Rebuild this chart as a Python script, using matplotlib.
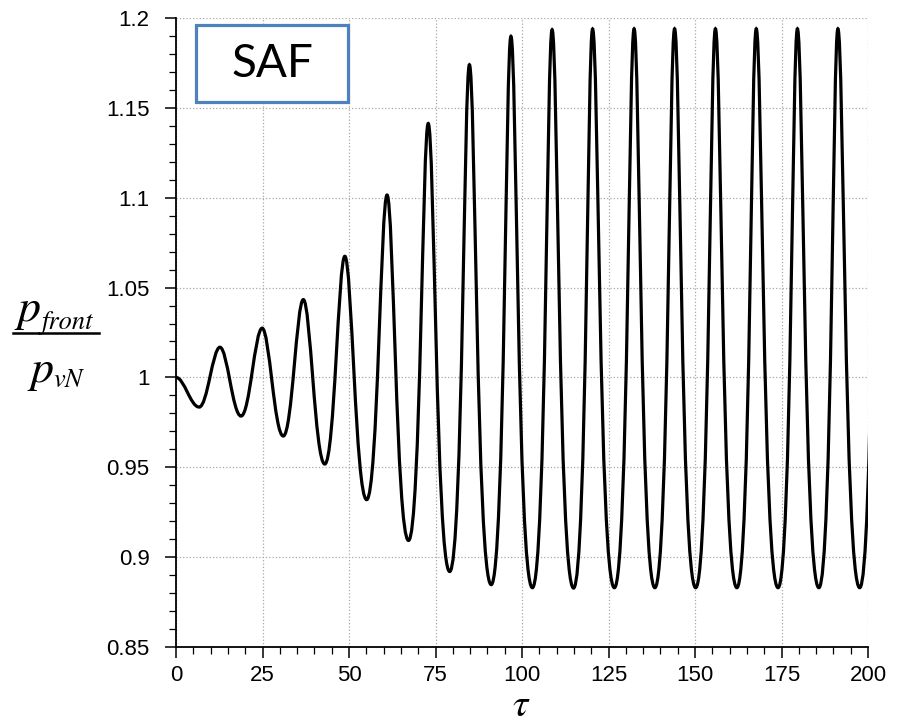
import numpy as np
import matplotlib
matplotlib.use("Agg")
import matplotlib.pyplot as plt
from matplotlib.path import Path
from matplotlib.patches import PathPatch, Rectangle
from matplotlib.lines import Line2D
from matplotlib.ticker import MultipleLocator, FormatStrFormatter

plt.rcParams["font.family"] = ["Liberation Sans", "DejaVu Sans"]
plt.rcParams["mathtext.fontset"] = "stix"

# extrema of the front pressure ratio (start value counted with the maxima)
peak_tau = [0.0, 12.7, 24.9, 36.8, 48.8, 61.0, 72.9, 84.8, 96.8, 108.7,
            120.4, 132.4, 144.1, 155.9, 167.7, 179.6, 191.3, 203.1]
peak_val = [1.0, 1.0168, 1.0274, 1.0433, 1.0674, 1.1015, 1.1413, 1.174, 1.1898,
            1.1935, 1.1939, 1.194, 1.194, 1.194, 1.194, 1.194, 1.194, 1.194]
trough_tau = [6.7, 18.8, 31.0, 43.0, 55.1, 67.2, 79.1, 91.1, 103.0, 114.9,
              126.7, 138.4, 150.2, 162.1, 174.0, 185.8, 197.6]
trough_val = [0.9835, 0.9785, 0.9674, 0.9518, 0.932, 0.9093, 0.892, 0.8847,
              0.883, 0.8828, 0.883, 0.883, 0.883, 0.883, 0.883, 0.883, 0.883]

x_ticks = [0, 25, 50, 75, 100, 125, 150, 175, 200]
y_ticks = [0.85, 0.9, 0.95, 1.0, 1.05, 1.1, 1.15, 1.2]


def extrema_path(taus, vals):
    """Bezier path with flat tangents at every extremum; troughs wider than peaks."""
    verts = [(taus[0], vals[0])]
    codes = [Path.MOVETO]
    for i in range(len(taus) - 1):
        t0, v0, t1, v1 = taus[i], vals[i], taus[i + 1], vals[i + 1]
        dt = t1 - t0
        w = min(abs(v1 - v0) / 0.31, 1.0)
        a = 0.36 + 0.33 * w  # trough side
        b = 0.36 - 0.10 * w  # peak side
        if v1 > v0:
            c1, c2 = (t0 + a * dt, v0), (t1 - b * dt, v1)
        else:
            c1, c2 = (t0 + b * dt, v0), (t1 - a * dt, v1)
        verts += [c1, c2, (t1, v1)]
        codes += [Path.CURVE4] * 3
    return Path(verts, codes)


taus = np.array(peak_tau + trough_tau)
vals = np.array(peak_val + trough_val)
order = np.argsort(taus)
taus, vals = taus[order], vals[order]

W, H = 899, 725
fig = plt.figure(figsize=(W / 100, H / 100), dpi=100)
ax = fig.add_axes([176 / W, 1 - 647 / H, 692 / W, 629 / H])

ax.add_patch(PathPatch(extrema_path(taus, vals), fill=False, lw=2.3,
                       ec="black", zorder=3, capstyle="round"))

ax.set_xlim(0, 200)
ax.set_ylim(0.85, 1.2)
ax.set_xticks(x_ticks)
ax.set_yticks(y_ticks)
ax.xaxis.set_minor_locator(MultipleLocator(5))
ax.yaxis.set_minor_locator(MultipleLocator(0.01))
ax.yaxis.set_major_formatter(FormatStrFormatter("%g"))
ax.tick_params(which="major", direction="out", length=8, width=1.1,
               labelsize=16, pad=5)
ax.tick_params(which="minor", direction="out", length=5, width=0.9)
ax.tick_params(axis="y", which="major", pad=11)

ax.grid(True, which="major", ls=":", lw=0.9, color="#a8a8a8")
for side in ["top", "right"]:
    ax.spines[side].set_visible(False)
for side in ["left", "bottom"]:
    ax.spines[side].set_linewidth(1.3)

# x label
fig.text(521 / W, 1 - 716 / H, r"$\tau$", fontsize=28, ha="center", va="baseline")

# y label written out as a fraction p_front / p_vN
serif = dict(family="STIXGeneral", style="italic", va="baseline", ha="left")
fig.text(17 / W, 1 - 321 / H, "p", fontsize=33, **serif)
fig.text(42 / W, 1 - 329 / H, "front", fontsize=19, **serif)
fig.add_artist(Line2D([13 / W, 99 / W], [1 - 333 / H, 1 - 333 / H],
                      transform=fig.transFigure, color="black", lw=1.8))
fig.text(30 / W, 1 - 382 / H, "p", fontsize=33, **serif)
fig.text(53 / W, 1 - 387 / H, "vN", fontsize=19, **serif)

ax.add_patch(Rectangle((0.0289, 0.8665), 0.2197, 0.1224, transform=ax.transAxes,
                       fc="white", ec="#4F81BD", lw=2.3, zorder=4, clip_on=False))
ax.text(0.1387, 0.9269, "SAF", transform=ax.transAxes, fontsize=33,
        family="Lato", ha="center", va="center", zorder=5)

fig.savefig("out.png", dpi=100)
